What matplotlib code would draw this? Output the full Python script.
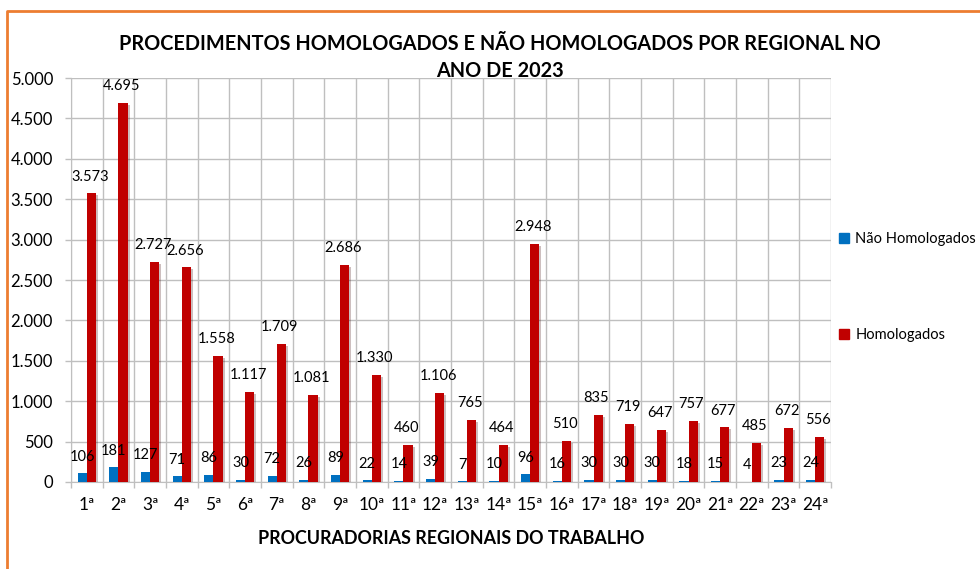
import matplotlib.pyplot as plt
import matplotlib.patheffects as pe
from matplotlib.patches import Patch
from matplotlib.lines import Line2D
import numpy as np

plt.rcParams['font.family'] = ['Lato', 'DejaVu Sans']

regionais = ['1ª', '2ª', '3ª', '4ª', '5ª', '6ª', '7ª', '8ª', '9ª', '10ª', '11ª', '12ª',
             '13ª', '14ª', '15ª', '16ª', '17ª', '18ª', '19ª', '20ª', '21ª', '22ª', '23ª', '24ª']
nao_homologados = [106, 181, 127, 71, 86, 30, 72, 26, 89, 22, 14, 39,
                   7, 10, 96, 16, 30, 30, 30, 18, 15, 4, 23, 24]
homologados = [3573, 4695, 2727, 2656, 1558, 1117, 1709, 1081, 2686, 1330, 460, 1106,
               765, 464, 2948, 510, 835, 719, 647, 757, 677, 485, 672, 556]
titulo = ['PROCEDIMENTOS HOMOLOGADOS E NÃO HOMOLOGADOS POR REGIONAL NO', 'ANO DE 2023']

def fmt(v):
    return '{:,}'.format(v).replace(',', '.')

azul = '#0070C0'
vermelho = '#C00000'
cinza = '#BFBFBF'

fig = plt.figure(figsize=(9.8, 5.69), dpi=100)
ax = fig.add_axes([0.0724, 0.1529, 0.848 - 0.0724, 0.8629 - 0.1529])

x = np.arange(len(regionais))
w = 0.29
sombra = [pe.SimplePatchShadow(offset=(1.5, -1.5), alpha=0.25), pe.Normal()]
b1 = ax.bar(x - w / 2, nao_homologados, w, color=azul, zorder=3, path_effects=sombra)
b2 = ax.bar(x + w / 2, homologados, w, color=vermelho, zorder=3, path_effects=sombra)

for xi, v in zip(x, nao_homologados):
    ax.annotate(str(v), (xi - w / 2, v), xytext=(0, 7), textcoords='offset points',
                ha='center', va='bottom', fontsize=10.5, zorder=5)
for xi, v in zip(x, homologados):
    ax.annotate(fmt(v), (xi + w / 2 - 0.05, v), xytext=(0, 7), textcoords='offset points',
                ha='center', va='bottom', fontsize=10.5, zorder=5)

ax.set_xlim(-0.5, len(regionais) - 0.5)
ax.set_ylim(0, 5000)
ax.set_yticks(np.arange(0, 5001, 500))
ax.set_yticklabels([fmt(v) for v in range(0, 5001, 500)], fontsize=12)
ax.set_xticks(x)
ax.set_xticklabels(regionais, fontsize=12.5)
ax.set_xticks(np.arange(-0.5, len(regionais), 1), minor=True)
ax.tick_params(axis='x', which='major', length=0, pad=11)
ax.tick_params(axis='x', which='minor', length=4.3, color=cinza, width=1)
ax.tick_params(axis='y', length=4.3, color=cinza, width=1, pad=8.6)
ax.grid(axis='y', color=cinza, lw=1, zorder=0)
ax.grid(axis='x', which='minor', color=cinza, lw=1, zorder=0)
for s in ['top', 'right']:
    ax.spines[s].set_visible(False)
for s in ['left', 'bottom']:
    ax.spines[s].set_color(cinza)
ax.set_axisbelow(True)

ax.set_xlabel('PROCURADORIAS REGIONAIS DO TRABALHO', fontsize=12.9, fontweight='bold', labelpad=12)
fig.text(0.51, 0.922, titulo[0], ha='center', va='center', fontsize=14.3, fontweight='bold')
fig.text(0.51, 0.876, titulo[1], ha='center', va='center', fontsize=14.3, fontweight='bold')

handles = [Patch(color=azul, label='Não Homologados'), Patch(color=vermelho, label='Homologados')]
fig.legend(handles=handles, loc='upper left', bbox_to_anchor=(0.843, 0.615), frameon=False,
           fontsize=10.5, handlelength=0.7, handleheight=0.7, handletextpad=0.4, labelspacing=5.6)

# moldura laranja
fig.add_artist(Line2D([7 / 980, 7 / 980, 1.0], [0, 1 - 11 / 569, 1 - 11 / 569],
                      color='#ED7D31', lw=2, transform=fig.transFigure))

plt.savefig('out.png', dpi=100)
